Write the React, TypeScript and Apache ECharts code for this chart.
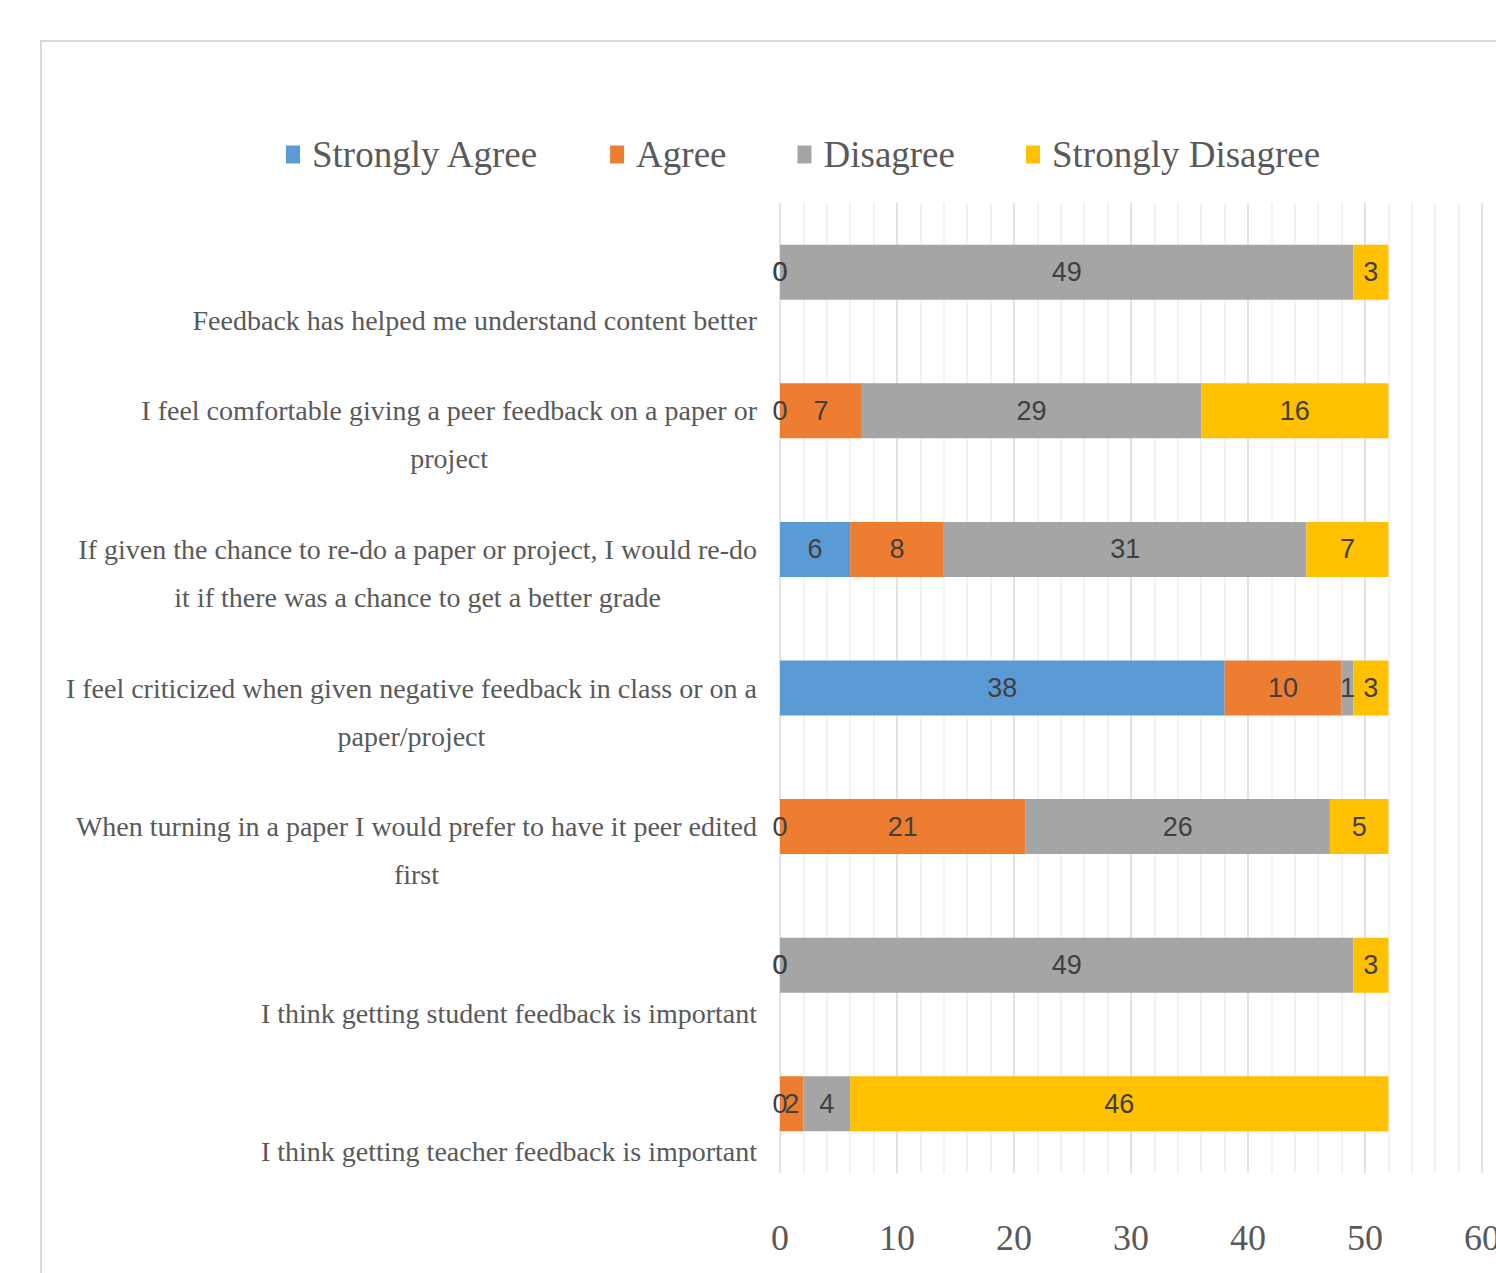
import React, { useEffect, useRef } from "react";
import * as echarts from "echarts";

const categories: string[] = [
  "Feedback has helped me understand content better",
  "I feel comfortable giving a peer feedback on a paper or\nproject",
  "If given the chance to re-do a paper or project, I would re-do\nit if there was a chance to get a better grade",
  "I feel criticized when given negative feedback in class or on a\npaper/project",
  "When turning in a paper I would prefer to have it peer edited\nfirst",
  "I think getting student feedback is important",
  "I think getting teacher feedback is important",
];

const seriesNames: string[] = ["Strongly Agree", "Agree", "Disagree", "Strongly Disagree"];
const stronglyAgree: number[] = [0, 0, 6, 38, 0, 0, 0];
const agree: number[] = [0, 7, 8, 10, 21, 0, 2];
const disagree: number[] = [49, 29, 31, 1, 26, 49, 4];
const stronglyDisagree: number[] = [3, 16, 7, 3, 5, 3, 46];
const colors: string[] = ["#5B9BD5", "#ED7D31", "#A5A5A5", "#FFC000"];
const xTicks = { min: 0, max: 60, interval: 10 };

const SERIF = "'Liberation Serif', 'Times New Roman', serif";
const NARROW = "'Liberation Sans Narrow', 'Arial Narrow', 'Liberation Sans', sans-serif";

export default function App() {
  const ref = useRef<HTMLDivElement>(null);
  useEffect(() => {
    if (!ref.current) return;
    const chart = echarts.init(ref.current, null, { renderer: "svg" });
    const values = [stronglyAgree, agree, disagree, stronglyDisagree];
    const option = {
      animation: false,
      backgroundColor: "#ffffff",
      graphic: [
        {
          type: "rect",
          shape: { x: 41, y: 41, width: 1500, height: 1300 },
          style: { fill: "none", stroke: "#d9d9d9", lineWidth: 2 },
          silent: true,
        },
      ],
      legend: {
        data: seriesNames,
        left: 281,
        top: 131,
        itemGap: 71,
        itemWidth: 14,
        itemHeight: 18,
        icon: "rect",
        textStyle: {
          fontSize: 37,
          fontFamily: SERIF,
          color: "#595959",
          padding: [0, 0, 0, 7],
        },
      },
      grid: {
        left: 780,
        right: 14,
        top: 203,
        bottom: 100,
        containLabel: false,
        outerBoundsMode: "none",
      },
      xAxis: {
        type: "value",
        min: xTicks.min,
        max: xTicks.max,
        interval: xTicks.interval,
        axisLine: { show: false },
        axisTick: { show: false },
        minorTick: { show: false, splitNumber: 5 },
        splitLine: { show: true, lineStyle: { color: "#d9d9d9", width: 1.5 } },
        minorSplitLine: { show: true, lineStyle: { color: "#efefef", width: 1.5 } },
        axisLabel: {
          fontSize: 36,
          fontFamily: SERIF,
          color: "#595959",
          margin: 47,
        },
      },
      yAxis: {
        type: "category",
        data: categories,
        inverse: true,
        axisLine: { show: false },
        axisTick: { show: false },
        axisLabel: {
          interval: 0,
          showMinLabel: true,
          showMaxLabel: true,
          margin: 23,
          fontSize: 28,
          fontFamily: SERIF,
          color: "#595959",
          lineHeight: 48,
          align: "right",
          verticalAlign: "middle",
          formatter: (v: string) => {
            const lines = v.split("\n");
            const padded = lines.length === 1 ? [" ", " ", lines[0]] : [" ", ...lines];
            return padded.map((l) => `{c|${l}}`).join("\n");
          },
          rich: {
            c: {
              align: "center",
              fontSize: 28,
              fontFamily: SERIF,
              color: "#595959",
              lineHeight: 48,
            },
          },
        },
      },
      series: seriesNames.map((name, i) => ({
        name,
        type: "bar",
        stack: "total",
        barWidth: 55,
        data: values[i],
        itemStyle: { color: colors[i] },
        label: {
          show: true,
          position: "inside",
          formatter: "{c}",
          fontSize: 27,
          fontFamily: NARROW,
          color: "#404040",
        },
      })),
    };
    chart.setOption(option as any);
    return () => chart.dispose();
  }, []);
  return (
    <div
      ref={ref}
      style={{ position: "fixed", left: 0, top: 0, width: 1496, height: 1273, background: "#fff" }}
    />
  );
}
